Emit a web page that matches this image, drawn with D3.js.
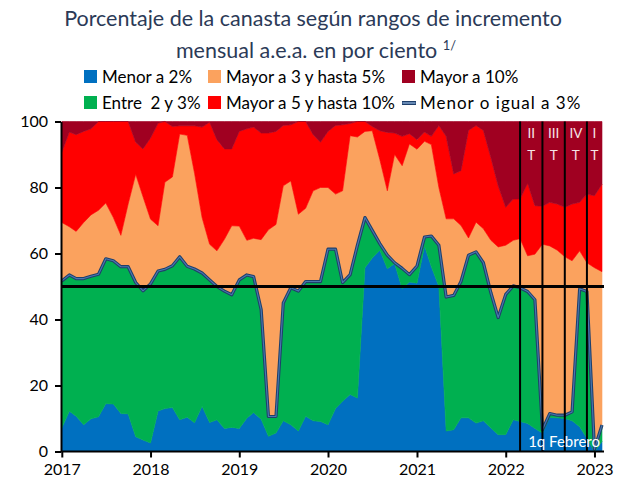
<!DOCTYPE html>
<html>
<head>
<meta charset="utf-8">
<script src="https://cdn.jsdelivr.net/npm/d3@7"></script>
<style>
  body { margin: 0; background: #fff; }
  svg { display: block; }
  text { font-family: Lato, "Open Sans", "Liberation Sans", sans-serif; }
</style>
</head>
<body>
<svg id="chart" width="629" height="489"></svg>
<script>
// Monthly periods: Jan 2017 ... Jan 2023, plus the first fortnight of Feb 2023
const periods = d3.timeMonths(new Date(2017, 0, 1), new Date(2023, 1, 2));

// Share of the basket (%) by range of monthly annualised increase
const menor2 = [
  7.1, 12.2, 10.7, 8.1, 9.9, 10.5, 14.5, 14.4, 11.5, 11.4, 4.5, 3.5,
  2.6, 12.3, 13.0, 13.3, 9.6, 10.4, 8.7, 13.7, 8.8, 9.6, 7.0, 7.3,
  7.0, 10.1, 11.8, 9.8, 4.6, 5.6, 9.3, 8.1, 6.2, 10.7, 9.3, 9.1,
  8.1, 13.0, 15.2, 17.3, 16.2, 55.7, 58.6, 61.0, 55.4, 57.0, 49.3, 51.4,
  51.0, 62.3, 56.0, 50.0, 6.2, 6.6, 10.2, 10.2, 8.6, 9.3, 7.1, 5.1,
  5.1, 9.6, 9.1, 8.5, 7.0, 5.6, 10.3, 10.2, 10.0, 9.3, 7.5, 4.0,
  0.0, 3.0
];
const entre2y3 = [
  44.6, 41.3, 41.7, 44.3, 43.2, 43.2, 43.9, 43.4, 44.5, 44.6, 46.7, 45.2,
  48.2, 42.4, 42.2, 43.0, 49.4, 45.7, 46.6, 40.4, 43.2, 40.4, 41.6, 40.2,
  45.0, 43.4, 41.2, 33.2, 6.0, 5.0, 35.7, 41.5, 42.4, 40.8, 42.2, 42.4,
  53.2, 48.3, 36.0, 36.3, 46.3, 15.2, 8.4, 2.0, 4.1, 0.2, 6.2, 2.2,
  5.2, 2.7, 9.3, 12.5, 40.6, 40.7, 41.3, 49.3, 51.9, 47.9, 41.0, 35.5,
  42.5, 40.6, 40.5, 40.0, 39.0, 1.0, 1.2, 0.8, 1.0, 2.7, 41.8, 44.5,
  0.7, 5.0
];
const mayor3a5 = [
  17.7, 14.6, 14.3, 17.0, 18.6, 19.4, 16.9, 13.1, 9.5, 19.0, 32.8, 28.5,
  19.6, 13.7, 26.4, 26.9, 37.2, 39.7, 29.0, 16.8, 10.8, 10.8, 15.7, 20.9,
  16.3, 10.5, 11.6, 21.2, 56.6, 58.2, 35.5, 32.4, 23.3, 22.2, 27.5, 28.5,
  18.7, 16.7, 27.8, 42.1, 32.8, 26.1, 30.2, 25.5, 19.5, 32.8, 31.1, 39.6,
  35.4, 29.0, 27.7, 17.5, 23.7, 23.2, 17.0, 5.2, 9.0, 10.3, 15.9, 21.4,
  14.9, 13.8, 14.9, 10.8, 13.8, 56.2, 50.8, 50.0, 48.0, 45.8, 11.5, 8.7,
  55.0, 46.5
];
const mayor5a10 = [
  21.3, 28.7, 29.3, 27.6, 26.1, 26.9, 24.7, 29.1, 34.5, 25.0, 9.7, 14.5,
  24.6, 31.1, 18.4, 15.3, 2.5, 2.9, 14.4, 27.4, 37.0, 33.7, 27.4, 23.3,
  28.7, 33.8, 33.7, 32.3, 29.3, 28.2, 18.3, 17.0, 28.1, 26.3, 17.0, 13.7,
  17.0, 20.8, 20.0, 3.7, 4.7, 3.0, 1.3, 8.7, 17.7, 6.5, 8.9, 3.1,
  2.9, 2.8, 2.5, 18.8, 25.0, 13.6, 16.6, 32.6, 29.3, 29.8, 25.0, 18.5,
  11.5, 12.5, 12.0, 22.0, 14.7, 11.5, 13.2, 14.0, 15.0, 17.2, 14.7, 20.8,
  21.8, 26.5
];
const mayor10 = [
  9.3, 3.2, 4.0, 3.0, 2.2, 0.0, 0.0, 0.0, 0.0, 0.0, 6.3, 8.3,
  5.0, 0.5, 0.0, 1.5, 1.3, 1.3, 1.3, 1.7, 0.2, 5.5, 8.3, 8.3,
  3.0, 2.2, 1.7, 3.5, 3.5, 3.0, 1.2, 1.0, 0.0, 0.0, 4.0, 6.3,
  3.0, 1.2, 1.0, 0.6, 0.0, 0.0, 1.5, 2.8, 3.3, 3.5, 4.5, 3.7,
  5.5, 3.2, 4.5, 1.2, 4.5, 15.9, 14.9, 2.7, 1.2, 2.7, 11.0, 19.5,
  26.0, 23.5, 23.5, 18.7, 25.5, 25.7, 24.5, 25.0, 26.0, 25.0, 24.5, 22.0,
  22.5, 19.0
];

const yearTicks = [2017, 2018, 2019, 2020, 2021, 2022, 2023];
const yTicks = [0, 20, 40, 60, 80, 100];
const threshold = 50;
// quarter boundaries in 2022 and their labels (label sits after its boundary)
const quarterBounds = [new Date(2022, 2, 1), new Date(2022, 5, 1), new Date(2022, 8, 1), new Date(2022, 11, 1)];
const quarterNames = ["II", "III", "IV", "I"];

const keys = ["menor2", "entre2y3", "mayor3a5", "mayor5a10", "mayor10"];
const labels = {
  menor2: "Menor a 2%",
  entre2y3: "Entre  2 y 3%",
  mayor3a5: "Mayor a 3 y hasta 5%",
  mayor5a10: "Mayor a 5 y hasta 10%",
  mayor10: "Mayor a 10%"
};
const colors = {
  menor2: "#0070C0",
  entre2y3: "#00B050",
  mayor3a5: "#FBA25E",
  mayor5a10: "#FF0000",
  mayor10: "#A00021"
};

const rows = periods.map((date, i) => ({
  date,
  menor2: menor2[i],
  entre2y3: entre2y3[i],
  mayor3a5: mayor3a5[i],
  mayor5a10: mayor5a10[i],
  mayor10: mayor10[i]
}));

const svg = d3.select("#chart");

const x = d3.scaleTime()
  .domain([periods[0], periods[periods.length - 1]])
  .range([61.8, 602]);
const y = d3.scaleLinear().domain([0, 100]).range([451.5, 121.5]);

// stacked areas
const stacked = d3.stack().keys(keys)(rows);
const area = d3.area()
  .x(d => x(d.data.date))
  .y0(d => y(d[0]))
  .y1(d => y(d[1]));

svg.append("g").selectAll("path")
  .data(stacked)
  .join("path")
  .attr("d", area)
  .attr("fill", d => colors[d.key])
  .attr("stroke", d => colors[d.key])
  .attr("stroke-width", 0.6);

// "Menor o igual a 3%" line
const le3 = d3.line()
  .x(d => x(d.date))
  .y(d => y(d.menor2 + d.entre2y3));
svg.append("path").datum(rows)
  .attr("d", le3).attr("fill", "none")
  .attr("stroke", "#1F3F6B").attr("stroke-width", 3.2).attr("stroke-linejoin", "round");
svg.append("path").datum(rows)
  .attr("d", le3).attr("fill", "none")
  .attr("stroke", "#4A78B0").attr("stroke-width", 1.1).attr("stroke-linejoin", "round");

// quarter boundaries
svg.append("g").selectAll("line")
  .data(quarterBounds)
  .join("line")
  .attr("x1", d => x(d)).attr("x2", d => x(d))
  .attr("y1", y(100)).attr("y2", y(0))
  .attr("stroke", "#000").attr("stroke-width", 2);

const qCenters = quarterBounds.map((d, i) => {
  const next = i < quarterBounds.length - 1 ? quarterBounds[i + 1] : d3.timeMonth.offset(d, 2);
  return (x(d) + x(next)) / 2;
});
const qg = svg.append("g").attr("fill", "#F6E3E6").attr("font-size", 13.5).attr("text-anchor", "middle");
quarterNames.forEach((name, i) => {
  qg.append("text").attr("x", qCenters[i]).attr("y", 138).text(name);
  qg.append("text").attr("x", qCenters[i]).attr("y", 160).text("T");
});

// 50% reference line
svg.append("line")
  .attr("x1", 61).attr("x2", 604)
  .attr("y1", y(threshold)).attr("y2", y(threshold))
  .attr("stroke", "#000").attr("stroke-width", 3);

svg.append("text")
  .attr("x", 600).attr("y", 446.5)
  .attr("text-anchor", "end").attr("fill", "#fff").attr("font-size", 15)
  .text("1q Febrero");

// axes
const yAxis = svg.append("g")
  .attr("transform", "translate(61,0)")
  .call(d3.axisLeft(y).tickValues(yTicks).tickSize(6).tickSizeOuter(0).tickPadding(7));
const xAxis = svg.append("g")
  .attr("transform", `translate(0,${y(0)})`)
  .call(d3.axisBottom(x)
    .tickValues(yearTicks.map(yr => new Date(yr, 0, 1)))
    .tickFormat(d3.timeFormat("%Y"))
    .tickSize(6).tickSizeOuter(0).tickPadding(6));
[yAxis, xAxis].forEach(g => {
  g.selectAll("path, line").attr("stroke", "#000").attr("stroke-width", 2);
  g.selectAll("text").attr("fill", "#000").attr("font-size", 16)
    .style("font-family", "Lato, 'Open Sans', sans-serif");
});
xAxis.select(".domain").attr("d", `M61,0H604`);

// title
const title = svg.append("g").attr("fill", "#2B3A57").attr("text-anchor", "middle");
const t1 = title.append("text").attr("x", 313).attr("y", 26).attr("font-size", 20)
  .text("Porcentaje de la canasta según rangos de incremento");
const fs = 20 * 498 / t1.node().getComputedTextLength();
t1.attr("font-size", fs);
const t2 = title.append("text").attr("x", 316).attr("y", 58).attr("font-size", fs);
t2.append("tspan").text("mensual a.e.a. en por ciento ");
t2.append("tspan").attr("font-size", fs * 0.6).attr("dy", -8).text("1/");

// legend
const legendItems = [
  { key: "menor2", x: 84, y: 70 },
  { key: "mayor3a5", x: 208, y: 70 },
  { key: "mayor10", x: 402, y: 70 },
  { key: "entre2y3", x: 84, y: 96 },
  { key: "mayor5a10", x: 208, y: 96 }
];
const lg = svg.append("g").attr("font-size", 17).attr("fill", "#000");
legendItems.forEach(it => {
  lg.append("rect").attr("x", it.x).attr("y", it.y).attr("width", 13).attr("height", 13)
    .attr("fill", colors[it.key]);
  lg.append("text").attr("x", it.x + 18).attr("y", it.y + 12.5)
    .style("white-space", "pre")
    .text(labels[it.key]);
});
lg.append("line").attr("x1", 402).attr("x2", 416).attr("y1", 103).attr("y2", 103)
  .attr("stroke", "#1F3F6B").attr("stroke-width", 4);
lg.append("line").attr("x1", 402.5).attr("x2", 415.5).attr("y1", 103).attr("y2", 103)
  .attr("stroke", "#7FA3CC").attr("stroke-width", 1.5);
lg.append("text").attr("x", 420).attr("y", 108.5)
  .attr("letter-spacing", 1)
  .text("Menor o igual a 3%");
</script>
</body>
</html>
